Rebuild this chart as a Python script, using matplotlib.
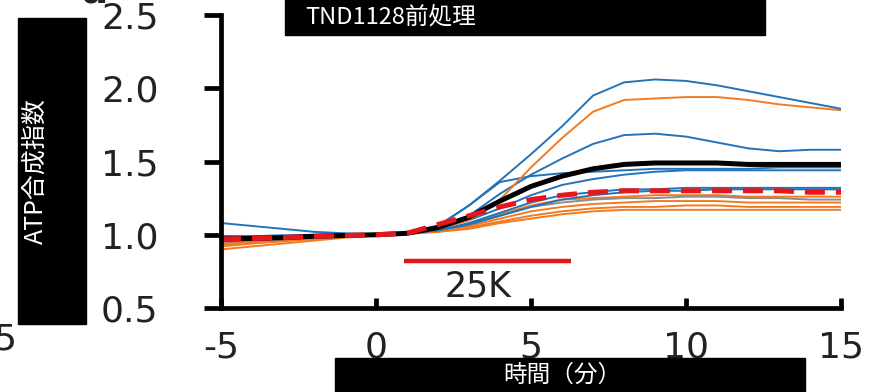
import matplotlib

matplotlib.use("Agg")
import matplotlib.pyplot as plt
from matplotlib.patches import Rectangle

plt.rcParams["axes.unicode_minus"] = False

# time (min), one value per minute
T = list(range(-5, 16))

BLUE = "#2273b8"
ORANGE = "#f47a20"
GRAY = "#8c8c8c"
RED = "#e8161b"

# individual traces
blue_a = [0.99, 0.99, 0.995, 0.995, 1.0, 1.0, 1.01, 1.06, 1.20, 1.37, 1.55,
          1.74, 1.95, 2.04, 2.06, 2.05, 2.02, 1.98, 1.94, 1.90, 1.86]
orange_a = [0.96, 0.97, 0.98, 0.985, 0.99, 1.0, 1.01, 1.04, 1.10, 1.24, 1.46,
            1.66, 1.84, 1.92, 1.93, 1.94, 1.94, 1.92, 1.89, 1.87, 1.85]
blue_b = [0.98, 0.985, 0.99, 0.995, 1.0, 1.0, 1.01, 1.05, 1.13, 1.28, 1.41,
          1.52, 1.62, 1.68, 1.69, 1.67, 1.63, 1.59, 1.57, 1.58, 1.58]
blue_c = [1.08, 1.06, 1.04, 1.02, 1.01, 1.0, 1.01, 1.06, 1.20, 1.36, 1.40,
          1.42, 1.43, 1.44, 1.45, 1.45, 1.45, 1.45, 1.46, 1.46, 1.46]
blue_d = [0.98, 0.985, 0.99, 0.995, 1.0, 1.0, 1.01, 1.04, 1.10, 1.18, 1.27,
          1.34, 1.38, 1.41, 1.43, 1.44, 1.44, 1.44, 1.44, 1.44, 1.44]
blue_e = [0.99, 0.99, 0.995, 0.995, 1.0, 1.0, 1.01, 1.03, 1.08, 1.15, 1.22,
          1.27, 1.29, 1.31, 1.31, 1.32, 1.32, 1.32, 1.32, 1.32, 1.32]
blue_f = [0.98, 0.985, 0.99, 0.995, 1.0, 1.0, 1.01, 1.03, 1.07, 1.13, 1.19,
          1.24, 1.27, 1.29, 1.30, 1.30, 1.31, 1.31, 1.31, 1.31, 1.31]
gray_a = [0.95, 0.96, 0.97, 0.98, 0.99, 1.0, 1.01, 1.03, 1.07, 1.13, 1.19,
          1.22, 1.24, 1.25, 1.25, 1.26, 1.26, 1.25, 1.25, 1.24, 1.24]
orange_b = [0.94, 0.955, 0.965, 0.975, 0.99, 1.0, 1.01, 1.03, 1.07, 1.14, 1.20,
            1.24, 1.25, 1.26, 1.27, 1.27, 1.27, 1.26, 1.26, 1.26, 1.26]
orange_c = [0.93, 0.945, 0.96, 0.975, 0.99, 1.0, 1.01, 1.03, 1.06, 1.11, 1.16,
            1.19, 1.21, 1.22, 1.23, 1.23, 1.23, 1.22, 1.22, 1.22, 1.22]
orange_d = [0.92, 0.94, 0.955, 0.97, 0.985, 1.0, 1.01, 1.02, 1.05, 1.09, 1.13,
            1.16, 1.18, 1.19, 1.19, 1.20, 1.20, 1.19, 1.19, 1.19, 1.19]
orange_e = [0.90, 0.92, 0.94, 0.96, 0.98, 1.0, 1.005, 1.02, 1.04, 1.08, 1.11,
            1.14, 1.16, 1.17, 1.17, 1.17, 1.17, 1.17, 1.17, 1.17, 1.17]

# averages
black_mean = [0.97, 0.975, 0.98, 0.99, 0.995, 1.0, 1.01, 1.05, 1.12, 1.23, 1.33,
              1.40, 1.45, 1.48, 1.49, 1.49, 1.49, 1.48, 1.48, 1.48, 1.48]
red_mean = [0.97, 0.975, 0.98, 0.99, 0.995, 1.0, 1.01, 1.07, 1.13, 1.19, 1.24,
            1.27, 1.29, 1.30, 1.30, 1.30, 1.30, 1.30, 1.30, 1.29, 1.29]

THIN = [
    (orange_e, ORANGE), (orange_d, ORANGE), (orange_c, ORANGE), (orange_b, ORANGE),
    (gray_a, GRAY), (blue_f, BLUE), (blue_e, BLUE), (blue_d, BLUE), (blue_c, BLUE),
    (blue_b, BLUE), (orange_a, ORANGE), (blue_a, BLUE),
]

# stimulus bar
bar_x = [0.9, 6.3]
bar_y = 0.82

X_TICKS = [-5, 0, 5, 10, 15]
Y_TICKS = [0.5, 1.0, 1.5, 2.0, 2.5]

CJK = ["Noto Sans CJK JP", "DejaVu Sans"]

fig = plt.figure(figsize=(8.74, 3.92), dpi=100)
ax = fig.add_axes([0.2529, 0.2143, 0.7094, 0.7474])

for ys, c in THIN:
    ax.plot(T, ys, color=c, linewidth=1.4)
ax.plot(T, black_mean, color="black", linewidth=3.6, solid_capstyle="butt")
ax.plot(T, red_mean, color=RED, linewidth=3.6, dashes=(4, 2.2))

ax.plot(bar_x, [bar_y, bar_y], color=RED, linewidth=3.2, solid_capstyle="butt")
ax.text(3.3, 0.645, "25K", ha="center", va="center", fontsize=25, color="#222")

ax.set_xlim(-5, 15)
ax.set_ylim(0.5, 2.5)
ax.set_xticks(X_TICKS)
ax.set_yticks(Y_TICKS)
ax.set_yticklabels([f"{v:.1f}" for v in Y_TICKS])
for s in ["top", "right"]:
    ax.spines[s].set_visible(False)
for s in ["left", "bottom"]:
    ax.spines[s].set_linewidth(3.4)
ax.tick_params(axis="x", direction="in", length=7, width=3.4, pad=16,
               labelsize=26, labelcolor="#222")
ax.tick_params(axis="y", direction="out", length=12, width=3.4, pad=33,
               labelsize=26, labelcolor="#222")

# black label boxes
def box(x0, y0, x1, y1):
    W, H = 874, 392
    fig.add_artist(Rectangle((x0 / W, 1 - y1 / H), (x1 - x0) / W, (y1 - y0) / H,
                             transform=fig.transFigure, color="black", zorder=10))

box(18, 18, 86, 324)
box(285, 0, 765, 35)
box(335, 358, 805, 392)

fig.text(36 / 874, 1 - 171 / 392, "ATP合成指数", rotation=90, ha="center",
         va="center", color="white", fontsize=18, family=CJK, zorder=11)
fig.text(305 / 874, 1 - 17 / 392, "TND1128前処理", ha="left", va="center",
         color="white", fontsize=17, family=CJK, zorder=11)
fig.text(562 / 874, 1 - 375 / 392, "時間（分）", ha="center", va="center",
         color="white", fontsize=17, family=CJK, zorder=11)

# fragments of neighbouring panel, cut by the image edge
fig.text(17 / 874, 1 - 340 / 392, "15", ha="right", va="center", fontsize=26,
         color="#222")
fig.text(94 / 874, 1 - 4 / 392, "a", ha="center", va="baseline", fontsize=28,
         fontweight="bold", color="#222")

fig.savefig("out.png", dpi=100)
